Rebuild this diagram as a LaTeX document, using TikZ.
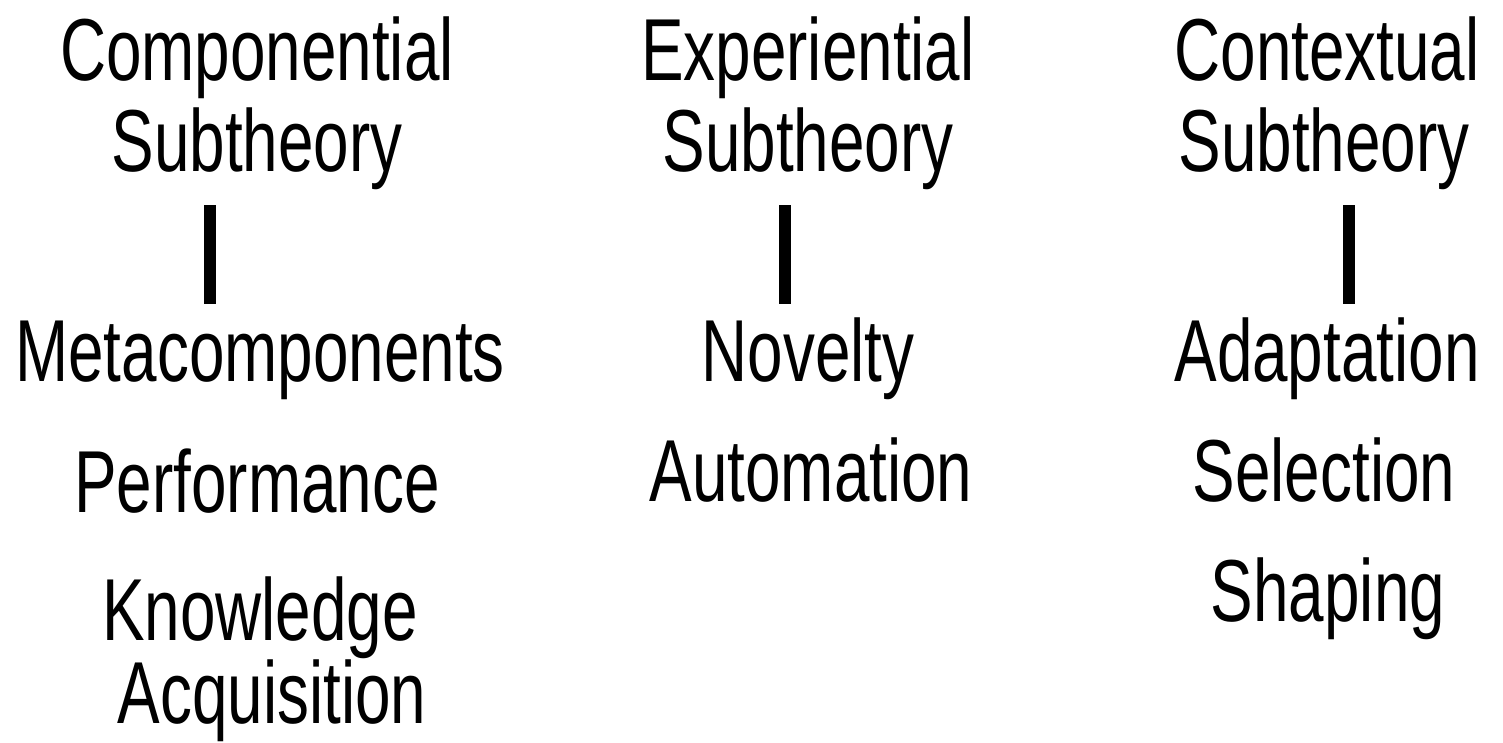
\documentclass[tikz,border=0pt]{standalone}
\usepackage{fontspec}
\setmainfont{Liberation Sans}
\begin{document}
\begin{tikzpicture}[x=1pt,y=-1pt,
  lbl/.style={anchor=base,inner sep=0pt,font=\fontsize{88}{88}\selectfont},
  bar/.style={line width=12pt,line cap=butt,black}]
\useasboundingbox[fill=white] (0,0) rectangle (1503,742);
\newcommand{\nx}[1]{\scalebox{0.725}[1]{#1}}
% column 1
\node[lbl] (comp) at (257,80) {\nx{Componential}};
\node[lbl] (sub1) at (257,171) {\nx{Subtheory}};
\node[lbl] (meta) at (260,381) {\nx{Metacomponents}};
\node[lbl] (perf) at (257,512) {\nx{Performance}};
\node[lbl] (know) at (260,640) {\nx{Knowledge}};
\node[lbl] (acq) at (272,723) {\nx{Acquisition}};
% column 2
\node[lbl] (exp) at (808,80) {\nx{Experiential}};
\node[lbl] (sub2) at (808,171) {\nx{Subtheory}};
\node[lbl] (nov) at (808,381) {\nx{Novelty}};
\node[lbl] (auto) at (811,501) {\nx{Automation}};
% column 3
\node[lbl] (cont) at (1327,80) {\nx{Contextual}};
\node[lbl] (sub3) at (1324,171) {\nx{Subtheory}};
\node[lbl] (adap) at (1327,381) {\nx{Adaptation}};
\node[lbl] (sel) at (1324,501) {\nx{Selection}};
\node[lbl] (shap) at (1328,621) {\nx{Shaping}};
% connectors
\coordinate (t1) at (210,205); \coordinate (b1) at (210,304);
\coordinate (t2) at (785,205); \coordinate (b2) at (785,304);
\coordinate (t3) at (1348.5,205); \coordinate (b3) at (1348.5,304);
\draw[bar] (t1) -- (b1);
\draw[bar] (t2) -- (b2);
\draw[bar] (t3) -- (b3);
\end{tikzpicture}
\end{document}
